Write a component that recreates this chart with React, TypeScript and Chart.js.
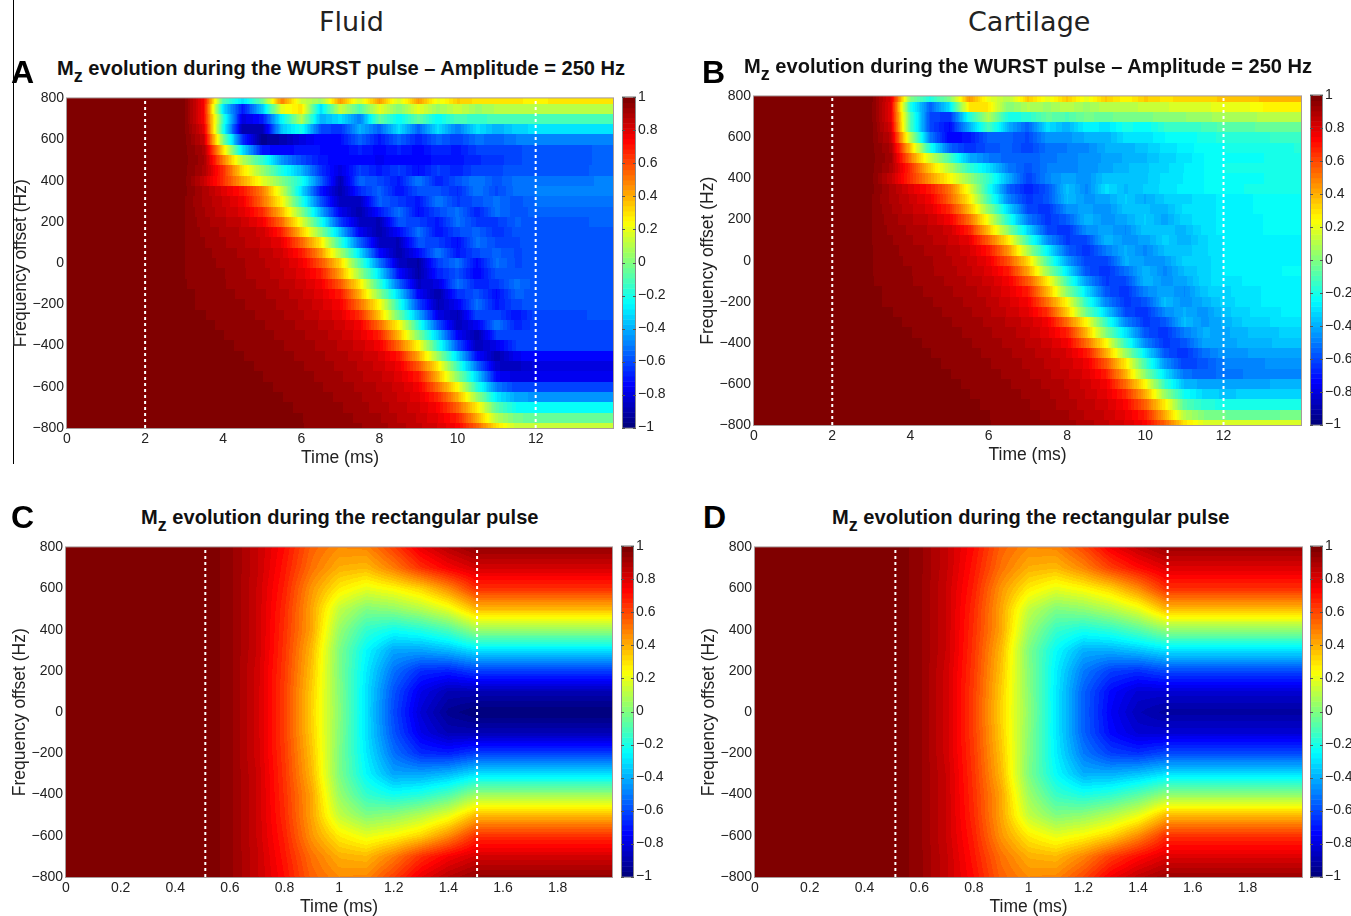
import React, { useEffect, useRef } from "react";
import { Chart, registerables } from "chart.js";

Chart.register(...registerables);

const wurstTimes = [0, 3, 3.5, 4, 4.5, 5, 5.5, 6, 6.5, 7, 7.5, 8, 8.5, 9, 9.5, 10, 10.5, 11, 11.5, 12, 12.5, 13, 13.5, 14];
const wurstFreqs = [800, 750, 700, 650, 600, 550, 500, 450, 400, 350, 300, 250, 200, 150, 100, 50, 0, -50, -100, -150, -200, -250, -300, -350, -400, -450, -500, -550, -600, -650, -700, -750, -800];
const rectTimes = [0, 0.5, 0.6, 0.7, 0.8, 0.9, 1, 1.1, 1.2, 1.3, 1.4, 1.5, 2];
const rectFreqs = [800, 700, 600, 500, 400, 300, 200, 100, 0, -100, -200, -300, -400, -500, -600, -700, -800];

const fluidWurst = [
[1,.98,.75,-.1,-.3,-.05,.5,.15,.05,.45,.15,.45,.15,.45,.2,.35,.3,.3,.3,.25,.3,.3,.3,.3],
[1,.98,.75,-.3,-.7,-.35,.2,.3,-.3,.15,-.1,.2,0,.2,.05,.15,.05,.1,.1,.1,.1,.12,.1,.1],
[1,.98,.75,-.15,-.8,-.7,-.25,.1,-.4,-.3,-.5,-.05,-.25,-.05,-.25,-.1,-.15,-.1,-.1,-.1,-.1,-.1,-.1,-.1],
[1,.98,.8,-.2,-.9,-.9,-.35,-.2,-.6,-.65,-.4,-.55,-.3,-.55,-.3,-.5,-.3,-.4,-.33,-.3,-.3,-.3,-.3,-.3],
[1,.98,.85,0,-.65,-.95,-.9,-.8,-.72,-.72,-.55,-.7,-.55,-.68,-.55,-.62,-.52,-.55,-.5,-.5,-.5,-.5,-.5,-.5],
[1,.98,.9,.3,-.3,-.7,-.75,-.7,-.72,-.75,-.68,-.74,-.68,-.74,-.66,-.7,-.62,-.62,-.6,-.58,-.58,-.58,-.56,-.56],
[1,.98,.92,.5,.1,-.15,-.45,-.6,-.7,-.75,-.72,-.76,-.72,-.75,-.7,-.7,-.66,-.64,-.6,-.58,-.58,-.58,-.56,-.56],
[1,.98,.9,.65,.3,.05,-.2,-.38,-.65,-.8,-.62,-.7,-.62,-.72,-.62,-.68,-.6,-.6,-.58,-.57,-.57,-.57,-.56,-.56],
[1,.98,.85,.65,.42,.2,0,-.2,-.55,-.88,-.55,-.6,-.7,-.5,-.68,-.58,-.5,-.58,-.52,-.52,-.52,-.52,-.5,-.5],
[1,.98,.9,.8,.7,.5,.15,-.3,-.7,-.9,-.66,-.55,-.72,-.58,-.58,-.66,-.5,-.6,-.52,-.5,-.5,-.5,-.5,-.5],
[1,.97,.9,.84,.76,.53,.25,-.17,-.58,-.87,-.86,-.55,-.63,-.7,-.5,-.63,-.58,-.52,-.58,-.53,-.53,-.53,-.52,-.52],
[1,.97,.91,.85,.8,.66,.38,.02,-.4,-.77,-.9,-.7,-.52,-.72,-.6,-.52,-.68,-.52,-.58,-.55,-.55,-.55,-.54,-.54],
[1,.97,.92,.88,.84,.76,.53,.2,-.2,-.62,-.85,-.88,-.58,-.62,-.7,-.52,-.63,-.63,-.56,-.57,-.57,-.57,-.56,-.56],
[1,.97,.93,.9,.87,.83,.68,.36,.02,-.37,-.76,-.9,-.73,-.52,-.72,-.6,-.55,-.65,-.58,-.57,-.57,-.57,-.57,-.57],
[1,.97,.94,.91,.88,.84,.78,.55,.28,-.15,-.55,-.85,-.88,-.58,-.62,-.72,-.52,-.6,-.6,-.57,-.57,-.57,-.57,-.57],
[1,.97,.95,.92,.9,.87,.82,.7,.45,.08,-.3,-.72,-.9,-.73,-.5,-.7,-.6,-.55,-.6,-.58,-.58,-.58,-.57,-.57],
[1,.97,.95,.93,.91,.88,.84,.77,.58,.32,-.1,-.5,-.85,-.91,-.62,-.52,-.73,-.52,-.6,-.58,-.58,-.58,-.57,-.57],
[1,.97,.95,.94,.91,.89,.85,.8,.69,.42,.05,-.3,-.72,-.91,-.68,-.58,-.75,-.58,-.58,-.58,-.58,-.58,-.57,-.57],
[1,.97,.96,.94,.92,.9,.87,.83,.76,.57,.28,-.14,-.54,-.85,-.8,-.52,-.68,-.64,-.52,-.58,-.58,-.58,-.57,-.57],
[1,.98,.96,.95,.93,.91,.89,.85,.79,.69,.39,.02,-.33,-.74,-.91,-.65,-.58,-.72,-.55,-.58,-.58,-.58,-.57,-.57],
[1,.98,.96,.95,.94,.92,.9,.87,.82,.75,.52,.25,-.18,-.6,-.88,-.76,-.52,-.7,-.6,-.58,-.58,-.58,-.57,-.57],
[1,.99,.97,.96,.95,.93,.91,.88,.84,.79,.65,.35,-.04,-.4,-.78,-.88,-.6,-.6,-.72,-.6,-.6,-.6,-.59,-.59],
[1,1,.98,.96,.95,.94,.92,.9,.87,.83,.76,.53,.25,-.17,-.58,-.87,-.76,-.5,-.68,-.6,-.6,-.6,-.6,-.6],
[1,1,.99,.97,.95,.95,.93,.91,.89,.85,.79,.68,.38,0,-.35,-.75,-.9,-.62,-.6,-.6,-.6,-.6,-.6,-.6],
[1,1,1,.98,.96,.95,.94,.92,.9,.87,.83,.76,.53,.25,-.17,-.58,-.87,-.78,-.62,-.62,-.62,-.62,-.62,-.62],
[1,1,1,.99,.97,.95,.95,.93,.91,.89,.85,.81,.7,.41,.05,-.32,-.72,-.9,-.76,-.72,-.72,-.72,-.72,-.72],
[1,1,1,1,.98,.96,.95,.94,.92,.9,.87,.83,.77,.57,.28,-.13,-.53,-.84,-.86,-.8,-.8,-.8,-.8,-.8],
[1,1,1,1,.99,.97,.95,.95,.93,.91,.88,.85,.8,.69,.39,.02,-.33,-.74,-.8,-.78,-.77,-.77,-.77,-.77],
[1,1,1,1,.99,.98,.96,.95,.94,.92,.9,.87,.83,.76,.53,.25,-.17,-.5,-.62,-.62,-.62,-.62,-.62,-.62],
[1,1,1,1,1,.99,.97,.95,.95,.93,.91,.88,.84,.79,.66,.41,.05,-.28,-.42,-.45,-.45,-.45,-.45,-.45],
[1,1,1,1,1,.99,.98,.96,.95,.94,.92,.89,.86,.82,.74,.55,.28,-.08,-.22,-.25,-.25,-.25,-.25,-.25],
[1,1,1,1,1,1,.98,.97,.95,.95,.93,.91,.87,.84,.78,.68,.41,.1,-.02,-.05,-.05,-.05,-.05,-.05],
[1,1,1,1,1,1,.99,.97,.96,.96,.94,.92,.89,.85,.81,.74,.55,.3,.14,.14,.14,.14,.14,.14],
];

const cartilageWurst = [
[1,.98,.8,0,-.2,0,.45,.2,.1,.35,.2,.35,.2,.35,.25,.35,.3,.33,.33,.35,.35,.38,.38,.38],
[1,.98,.78,-.2,-.55,-.3,.3,.28,0,.1,.05,.12,.05,.12,.1,.14,.15,.18,.18,.2,.2,.25,.25,.25],
[1,.98,.78,-.1,-.6,-.65,-.2,.1,-.2,-.18,-.05,-.1,-.02,-.05,0,-.02,.03,.03,.05,.08,.08,.1,.1,.1],
[1,.98,.82,-.1,-.6,-.72,-.4,-.1,-.4,-.55,-.3,-.4,-.25,-.3,-.2,-.25,-.15,-.15,-.12,-.08,-.08,-.05,-.05,-.05],
[1,.98,.86,.1,-.5,-.75,-.7,-.55,-.55,-.6,-.45,-.45,-.4,-.4,-.3,-.3,-.25,-.25,-.2,-.18,-.17,-.16,-.15,-.15],
[1,.98,.9,.35,-.2,-.55,-.65,-.58,-.55,-.62,-.52,-.5,-.48,-.4,-.4,-.35,-.3,-.27,-.23,-.22,-.2,-.2,-.2,-.18],
[1,.98,.92,.5,.15,-.1,-.4,-.5,-.55,-.55,-.52,-.48,-.46,-.43,-.4,-.38,-.33,-.3,-.25,-.23,-.22,-.22,-.2,-.2],
[1,.98,.9,.65,.35,.1,-.15,-.3,-.5,-.58,-.5,-.48,-.46,-.42,-.38,-.35,-.32,-.28,-.25,-.22,-.2,-.2,-.2,-.2],
[1,.98,.85,.65,.45,.25,.05,-.15,-.4,-.62,-.48,-.42,-.46,-.35,-.35,-.35,-.3,-.28,-.25,-.22,-.22,-.22,-.2,-.2],
[1,.98,.9,.8,.7,.52,.2,-.2,-.55,-.68,-.58,-.36,-.48,-.3,-.38,-.34,-.3,-.27,-.25,-.22,-.22,-.2,-.2,-.2],
[1,.97,.9,.84,.76,.55,.28,-.12,-.48,-.64,-.58,-.37,-.45,-.42,-.34,-.41,-.34,-.32,-.3,-.27,-.26,-.24,-.23,-.22],
[1,.97,.91,.85,.8,.66,.38,.02,-.32,-.6,-.65,-.46,-.42,-.47,-.35,-.37,-.39,-.3,-.3,-.27,-.26,-.24,-.23,-.22],
[1,.97,.92,.88,.84,.76,.53,.2,-.18,-.5,-.64,-.56,-.38,-.46,-.41,-.34,-.42,-.32,-.3,-.27,-.26,-.25,-.24,-.24],
[1,.97,.93,.9,.87,.83,.68,.36,.02,-.32,-.6,-.65,-.46,-.42,-.47,-.35,-.37,-.38,-.3,-.27,-.26,-.25,-.25,-.25],
[1,.97,.94,.91,.88,.84,.78,.55,.28,-.13,-.46,-.63,-.6,-.38,-.45,-.43,-.33,-.4,-.32,-.28,-.27,-.26,-.26,-.26],
[1,.97,.95,.92,.9,.87,.82,.7,.45,.08,-.26,-.55,-.65,-.5,-.4,-.48,-.37,-.36,-.32,-.28,-.27,-.27,-.26,-.26],
[1,.97,.95,.93,.91,.88,.84,.77,.58,.32,-.1,-.43,-.62,-.62,-.4,-.44,-.44,-.33,-.33,-.28,-.27,-.27,-.26,-.26],
[1,.97,.95,.94,.91,.89,.85,.8,.69,.42,.05,-.28,-.58,-.65,-.52,-.38,-.48,-.37,-.33,-.28,-.27,-.26,-.25,-.25],
[1,.97,.96,.94,.92,.9,.87,.83,.76,.57,.28,-.12,-.45,-.63,-.6,-.38,-.45,-.42,-.32,-.3,-.28,-.27,-.26,-.26],
[1,.98,.96,.95,.93,.91,.89,.85,.79,.69,.39,.02,-.3,-.58,-.65,-.48,-.41,-.47,-.35,-.32,-.3,-.28,-.27,-.27],
[1,.98,.96,.95,.94,.92,.9,.87,.82,.75,.52,.25,-.17,-.48,-.64,-.58,-.37,-.46,-.4,-.33,-.3,-.28,-.27,-.27],
[1,.99,.97,.96,.95,.93,.91,.88,.84,.79,.65,.35,-.04,-.33,-.6,-.65,-.47,-.4,-.46,-.36,-.32,-.3,-.28,-.28],
[1,1,.98,.96,.95,.94,.92,.9,.87,.83,.76,.53,.25,-.15,-.48,-.64,-.58,-.37,-.45,-.4,-.34,-.32,-.3,-.3],
[1,1,.99,.97,.95,.95,.93,.91,.89,.85,.79,.68,.38,0,-.3,-.58,-.65,-.5,-.4,-.42,-.38,-.36,-.34,-.33],
[1,1,1,.98,.96,.95,.94,.92,.9,.87,.83,.76,.53,.25,-.15,-.48,-.64,-.58,-.42,-.42,-.4,-.38,-.37,-.37],
[1,1,1,.99,.97,.95,.95,.93,.91,.89,.85,.81,.7,.41,.05,-.28,-.58,-.65,-.52,-.45,-.44,-.43,-.42,-.42],
[1,1,1,1,.98,.96,.95,.94,.92,.9,.87,.83,.77,.57,.28,-.12,-.45,-.62,-.58,-.5,-.48,-.47,-.46,-.46],
[1,1,1,1,.99,.97,.95,.95,.93,.91,.88,.85,.8,.69,.39,.02,-.3,-.52,-.55,-.52,-.5,-.48,-.47,-.47],
[1,1,1,1,.99,.98,.96,.95,.94,.92,.9,.87,.83,.76,.53,.25,-.15,-.38,-.42,-.43,-.42,-.41,-.4,-.4],
[1,1,1,1,1,.99,.97,.95,.95,.93,.91,.88,.84,.79,.66,.41,.05,-.22,-.32,-.35,-.34,-.33,-.33,-.33],
[1,1,1,1,1,.99,.98,.96,.95,.94,.92,.89,.86,.82,.74,.55,.28,-.08,-.17,-.2,-.2,-.2,-.2,-.2],
[1,1,1,1,1,1,.98,.97,.95,.95,.93,.91,.87,.84,.78,.68,.41,.1,0,-.03,-.04,-.04,-.03,-.03],
[1,1,1,1,1,1,.99,.97,.96,.96,.94,.92,.89,.85,.81,.74,.55,.3,.18,.16,.16,.17,.18,.18],
];

const fluidRect = [
[1,1,.95,.85,.72,.55,.47,.48,.62,.78,.88,.95,.95],
[1,1,.95,.85,.7,.52,.4,.38,.5,.65,.75,.82,.82],
[1,1,.95,.84,.68,.45,.28,.2,.25,.33,.47,.65,.65],
[1,1,.95,.84,.66,.42,.13,0,.03,.1,.2,.38,.38],
[1,1,.95,.84,.65,.42,.05,-.15,-.22,-.18,-.1,.05,.05],
[1,1,.95,.84,.64,.38,0,-.25,-.42,-.42,-.38,-.3,-.3],
[1,1,.95,.83,.63,.36,0,-.28,-.52,-.66,-.68,-.62,-.62],
[1,1,.95,.83,.62,.34,.01,-.3,-.58,-.78,-.88,-.88,-.88],
[1,1,.95,.83,.62,.33,.02,-.3,-.6,-.82,-.95,-1,-1],
[1,1,.95,.83,.62,.34,.01,-.3,-.58,-.78,-.88,-.88,-.88],
[1,1,.95,.83,.63,.36,0,-.28,-.52,-.66,-.68,-.62,-.62],
[1,1,.95,.84,.64,.38,0,-.25,-.42,-.42,-.38,-.3,-.3],
[1,1,.95,.84,.65,.42,.05,-.15,-.22,-.18,-.1,.05,.05],
[1,1,.95,.84,.66,.42,.13,0,.03,.1,.2,.38,.38],
[1,1,.95,.84,.68,.45,.28,.2,.25,.33,.47,.65,.65],
[1,1,.95,.85,.7,.52,.4,.38,.5,.65,.75,.82,.82],
[1,1,.95,.85,.72,.55,.47,.48,.62,.78,.88,.95,.95],
];

const cartilageRect = [
[1,1,.95,.85,.72,.55,.47,.48,.6,.76,.86,.93,.93],
[1,1,.95,.85,.7,.52,.4,.38,.48,.62,.72,.8,.8],
[1,1,.95,.84,.68,.45,.28,.2,.25,.33,.47,.65,.65],
[1,1,.95,.84,.66,.42,.13,0,.03,.1,.2,.38,.38],
[1,1,.95,.84,.65,.42,.06,-.14,-.2,-.16,-.08,.03,.03],
[1,1,.95,.84,.64,.38,0,-.24,-.4,-.4,-.36,-.3,-.3],
[1,1,.95,.83,.63,.36,.01,-.27,-.5,-.62,-.65,-.6,-.6],
[1,1,.95,.83,.62,.34,.02,-.28,-.55,-.73,-.82,-.82,-.82],
[1,1,.95,.83,.62,.33,.03,-.28,-.55,-.75,-.87,-.92,-.92],
[1,1,.95,.83,.62,.34,.02,-.28,-.55,-.73,-.82,-.82,-.82],
[1,1,.95,.83,.63,.36,.01,-.27,-.5,-.62,-.65,-.6,-.6],
[1,1,.95,.84,.64,.38,0,-.24,-.4,-.4,-.36,-.3,-.3],
[1,1,.95,.84,.65,.42,.06,-.14,-.2,-.16,-.08,.03,.03],
[1,1,.95,.84,.66,.42,.13,0,.03,.1,.2,.38,.38],
[1,1,.95,.84,.68,.45,.28,.2,.25,.33,.47,.65,.65],
[1,1,.95,.85,.7,.52,.4,.38,.48,.62,.72,.8,.8],
[1,1,.95,.85,.72,.55,.47,.48,.6,.76,.86,.93,.93],
];

const FONT = "'Liberation Sans', Arial, sans-serif";
const TEXT = "#222";

function jet(v: number): [number, number, number] {
  let t = (v + 1) / 2;
  t = Math.max(0, Math.min(1, t));
  t = Math.min(63, Math.floor(t * 64)) / 63;
  const c = (a: number) => Math.round(255 * Math.max(0, Math.min(1, a)));
  return [
    c(Math.min(4 * t - 1.5, -4 * t + 4.5)),
    c(Math.min(4 * t - 0.5, -4 * t + 3.5)),
    c(Math.min(4 * t + 0.5, -4 * t + 2.5)),
  ];
}

function bracket(arr: number[], v: number): [number, number] {
  const n = arr.length;
  for (let i = 0; i < n - 1; i++) {
    const a = arr[i], b = arr[i + 1];
    if ((v >= a && v <= b) || (v <= a && v >= b)) return [i, (v - a) / (b - a)];
  }
  return v < Math.min(arr[0], arr[n - 1]) === arr[0] < arr[n - 1] ? [0, 0] : [n - 2, 1];
}

const heatPlugin = {
  id: "heat",
  beforeDatasetsDraw(chart: any, _a: any, opts: any) {
    const { ctx, chartArea: area, scales } = chart;
    const { times, freqs, matrix, smooth } = opts;
    const L = Math.round(area.left), T = Math.round(area.top);
    const W = Math.round(area.right) - L, H = Math.round(area.bottom) - T;
    const img = ctx.createImageData(W, H);
    const xb = Array.from({ length: W }, (_, i) => bracket(times, scales.x.getValueForPixel(L + i + 0.5)));
    const yb = Array.from({ length: H }, (_, j) => bracket(freqs, scales.y.getValueForPixel(T + j + 0.5)));
    let p = 0;
    for (let j = 0; j < H; j++) {
      let [r, fr] = yb[j];
      if (!smooth) { r = fr < 0.5 ? r : r + 1; fr = 0; }
      const r0 = matrix[r], r1 = matrix[Math.min(r + 1, matrix.length - 1)];
      for (let i = 0; i < W; i++) {
        const [c, ft] = xb[i];
        const a = r0[c] + (r0[c + 1] - r0[c]) * ft;
        const b = r1[c] + (r1[c + 1] - r1[c]) * ft;
        const [R, G, B] = jet(a + (b - a) * fr);
        img.data[p++] = R; img.data[p++] = G; img.data[p++] = B; img.data[p++] = 255;
      }
    }
    ctx.putImageData(img, L, T);
  },
  afterDatasetsDraw(chart: any) {
    const { ctx, chartArea: a } = chart;
    ctx.save();
    ctx.strokeStyle = "#a89a9a";
    ctx.lineWidth = 1;
    ctx.strokeRect(a.left - 0.5, a.top - 0.5, a.right - a.left + 1, a.bottom - a.top + 1);
    ctx.restore();
  },
};

const barPlugin = {
  id: "colorbarFill",
  beforeDatasetsDraw(chart: any) {
    const { ctx, chartArea: a, scales } = chart;
    const y = scales.y;
    ctx.save();
    for (let i = 0; i < 64; i++) {
      const lo = -1 + (2 * i) / 64, hi = -1 + (2 * (i + 1)) / 64;
      const [R, G, B] = jet((lo + hi) / 2);
      const top = y.getPixelForValue(hi), bot = y.getPixelForValue(lo);
      ctx.fillStyle = `rgb(${R},${G},${B})`;
      ctx.fillRect(a.left, top, a.right - a.left, bot - top + 0.5);
    }
    ctx.strokeStyle = "#888";
    ctx.lineWidth = 1;
    ctx.strokeRect(a.left + 0.5, a.top - 0.5, a.right - a.left - 1, a.bottom - a.top + 1);
    ctx.strokeStyle = "#555";
    for (const t of y.ticks) {
      const py = Math.round(y.getPixelForValue(t.value)) + 0.5;
      ctx.beginPath();
      ctx.moveTo(a.left, py); ctx.lineTo(a.left + 3, py);
      ctx.moveTo(a.right - 3, py); ctx.lineTo(a.right, py);
      ctx.stroke();
    }
    ctx.restore();
  },
};

const minus = (s: string) => s.replace("-", "\u2212");

type PanelDef = {
  x: number; y: number; w: number; h: number; cbX: number; cbW: number;
  times: number[]; freqs: number[]; matrix: number[][]; smooth: boolean;
  marks: number[]; xMax: number; xStep: number;
};

function Panel({ d }: { d: PanelDef }) {
  const heatRef = useRef<HTMLCanvasElement>(null);
  const barRef = useRef<HTMLCanvasElement>(null);
  const leftPad = 56, bottomPad = 41, topPad = 10, rightPad = 6;
  const cbCanvasW = Math.min(1351 - d.cbX, d.cbW + 44);

  useEffect(() => {
    const cells: any[] = [];
    d.freqs.forEach((f, r) => d.times.forEach((t, c) => cells.push({ x: t, y: f, v: d.matrix[r][c] })));
    const heat = new Chart(heatRef.current!, {
      type: "scatter",
      plugins: [heatPlugin],
      data: {
        datasets: [
          { label: "Mz", data: cells, pointRadius: 0 },
          ...d.marks.map((m) => ({
            label: "pulse limit", type: "line", showLine: true, pointRadius: 0,
            borderColor: "#fff", borderWidth: 2, borderDash: [3, 3],
            data: [{ x: m, y: -800 }, { x: m, y: 800 }],
          })),
        ] as any,
      },
      options: {
        animation: false, responsive: false, devicePixelRatio: 1, events: [],
        layout: { padding: { left: 0, top: topPad, right: rightPad, bottom: 0 } },
        plugins: {
          legend: { display: false }, tooltip: { enabled: false },
          heat: { times: d.times, freqs: d.freqs, matrix: d.matrix, smooth: d.smooth },
        } as any,
        scales: {
          x: {
            type: "linear", min: 0, max: d.xMax,
            afterFit: (s: any) => { s.height = bottomPad; },
            grid: { display: false, drawTicks: false }, border: { display: false },
            ticks: {
              stepSize: d.xStep, includeBounds: false, maxRotation: 0, autoSkip: false, padding: 3,
              color: TEXT, font: { family: FONT, size: 14 },
              callback: (v: any) => String(Number(Number(v).toFixed(1))),
            },
            title: { display: true, text: "Time (ms)", color: TEXT, font: { family: FONT, size: 17.5 }, padding: 0 },
          },
          y: {
            type: "linear", min: -800, max: 800,
            afterFit: (s: any) => { s.width = leftPad; },
            grid: { display: false, drawTicks: false }, border: { display: false },
            ticks: {
              stepSize: 200, includeBounds: false, autoSkip: false, padding: 3,
              color: TEXT, font: { family: FONT, size: 14 },
              callback: (v: any) => minus(String(v)),
            },
            title: { display: true, text: "Frequency offset (Hz)", color: TEXT, font: { family: FONT, size: 17.5 }, padding: 0 },
          },
        },
      } as any,
    });
    const bar = new Chart(barRef.current!, {
      type: "scatter",
      plugins: [barPlugin],
      data: { datasets: [{ label: "Mz scale", data: [], pointRadius: 0 }] },
      options: {
        animation: false, responsive: false, devicePixelRatio: 1, events: [],
        layout: { padding: { left: 0, right: 0, top: topPad, bottom: 10 } },
        plugins: { legend: { display: false }, tooltip: { enabled: false } },
        scales: {
          x: { display: false, min: 0, max: 1 },
          y: {
            position: "right", min: -1, max: 1,
            afterFit: (s: any) => { s.width = cbCanvasW - d.cbW; },
            grid: { display: false, drawTicks: false }, border: { display: false },
            ticks: {
              stepSize: 0.2, autoSkip: false, padding: 2, color: TEXT, font: { family: FONT, size: 14 },
              callback: (v: any) => minus(String(Number(Number(v).toFixed(1)))),
            },
          },
        },
      } as any,
    });
    return () => { heat.destroy(); bar.destroy(); };
  }, []);

  return (
    <>
      <canvas ref={heatRef} width={d.w + leftPad + rightPad} height={d.h + topPad + bottomPad}
        style={{ position: "absolute", left: d.x - leftPad, top: d.y - topPad, display: "block" }} />
      <canvas ref={barRef} width={cbCanvasW} height={d.h + topPad + 10}
        style={{ position: "absolute", left: d.cbX, top: d.y - topPad, display: "block" }} />
    </>
  );
}

const panels: PanelDef[] = [
  { x: 67, y: 97, w: 546, h: 331, cbX: 622, cbW: 14, times: wurstTimes, freqs: wurstFreqs, matrix: fluidWurst, smooth: false, marks: [2, 12], xMax: 13.98, xStep: 2 },
  { x: 754, y: 95, w: 547, h: 330, cbX: 1310, cbW: 13, times: wurstTimes, freqs: wurstFreqs, matrix: cartilageWurst, smooth: false, marks: [2, 12], xMax: 13.98, xStep: 2 },
  { x: 66, y: 546, w: 546, h: 331, cbX: 621, cbW: 13, times: rectTimes, freqs: rectFreqs, matrix: fluidRect, smooth: true, marks: [0.51, 1.505], xMax: 1.999, xStep: 0.2 },
  { x: 755, y: 546, w: 547, h: 331, cbX: 1310, cbW: 13, times: rectTimes, freqs: rectFreqs, matrix: cartilageRect, smooth: true, marks: [0.513, 1.508], xMax: 1.999, xStep: 0.2 },
];

const abs = (left: number, top: number, extra: React.CSSProperties = {}): React.CSSProperties => ({
  position: "absolute", left, top, whiteSpace: "nowrap", lineHeight: 1, fontFamily: FONT, color: "#111", ...extra,
});

function Title({ x, y, text }: { x: number; y: number; text: string }) {
  return (
    <div style={abs(x, y, { fontWeight: 700, fontSize: 20.1 })}>
      M<span style={{ fontSize: 18, position: "relative", top: 7 }}>z</span> {text}
    </div>
  );
}

function Letter({ x, y, t }: { x: number; y: number; t: string }) {
  return <div style={abs(x, y, { fontWeight: 700, fontSize: 32, color: "#000" })}>{t}</div>;
}

export default function App() {
  const wurst = "evolution during the WURST pulse \u2013 Amplitude = 250 Hz";
  const rect = "evolution during the rectangular pulse";
  const head = { fontFamily: "'DejaVu Sans', sans-serif", fontSize: 27, color: "#222" };
  return (
    <div style={{ position: "absolute", left: 0, top: 0, width: 1351, height: 916, overflow: "hidden", background: "#fff" }}>
      <div style={{ position: "absolute", left: 13, top: 0, width: 1, height: 464, background: "#000" }} />
      {panels.map((d, i) => <Panel key={i} d={d} />)}
      <div style={abs(319, 8, head)}>Fluid</div>
      <div style={abs(968, 8, head)}>Cartilage</div>
      <Letter x={11} y={56} t="A" />
      <Letter x={702} y={56} t="B" />
      <Letter x={11} y={501} t="C" />
      <Letter x={703} y={501} t="D" />
      <Title x={57} y={58} text={wurst} />
      <Title x={744} y={56} text={wurst} />
      <Title x={141} y={507} text={rect} />
      <Title x={832} y={507} text={rect} />
    </div>
  );
}
